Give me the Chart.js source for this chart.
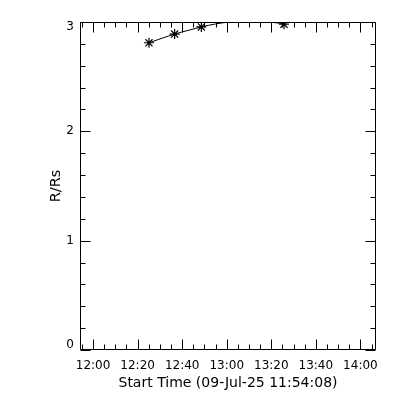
<!DOCTYPE html>
<html><head><meta charset="utf-8">
<script src="https://cdn.jsdelivr.net/npm/chart.js@4"></script>
<style>html,body{margin:0;padding:0;background:#fff}#wrap{width:400px;height:400px}</style>
</head><body><div id="wrap"><canvas id="c" width="400" height="400"></canvas></div>
<script>
const startLabel = '09-Jul-25 11:54:08';
const xRange = ['11:54:08', '14:07:00'];
const xTickLabels = ['12:00', '12:20', '12:40', '13:00', '13:20', '13:40', '14:00'];
const xMinorStepMin = 5;
const yTickLabels = ['0', '1', '2', '3'];
const yMinorStep = 0.2;
const obsTimes = ['12:25:06', '12:36:36', '12:48:36', '13:25:42'];
const obsR = [2.81, 2.89, 2.955, 2.98];
const fitTimes = ['12:25:06', '12:31:00', '12:36:36', '12:43:00', '12:48:36', '12:55:00', '13:01:00', '13:09:00', '13:17:00', '13:25:42'];
const fitR = [2.81, 2.852, 2.89, 2.925, 2.955, 2.982, 3.0, 3.013, 3.003, 2.985];

function toMin(s) { const p = s.split(':').map(Number); return p[0] * 60 + p[1] + (p[2] || 0) / 60; }
function fmt(m) { const h = Math.floor(m / 60), mm = Math.round(m - h * 60); return String(h).padStart(2, '0') + ':' + String(mm).padStart(2, '0'); }

const xMin = toMin(xRange[0]), xMax = toMin(xRange[1]);
const majorX = xTickLabels.map(toMin);
const yMajor = yTickLabels.map(Number);
const yMin = yMajor[0], yMax = yMajor[yMajor.length - 1];

const frame = {
  id: 'frame',
  afterDraw(chart) {
    const { ctx, chartArea: a, scales: { x, y } } = chart;
    ctx.save();
    ctx.strokeStyle = '#000';
    ctx.lineWidth = 1;
    const L = Math.round(a.left) + 0.5, R = Math.round(a.right) - 0.5, T = Math.round(a.top) + 0.5, B = Math.round(a.bottom) - 0.5;
    ctx.beginPath();
    ctx.rect(L, T, R - L, B - T);
    for (let m = Math.ceil(xMin / xMinorStepMin) * xMinorStepMin; m <= xMax; m += xMinorStepMin) {
      const px = Math.round(x.getPixelForValue(m)) + 0.5;
      const len = majorX.some(v => Math.abs(v - m) < 1e-6) ? 10 : 5;
      ctx.moveTo(px, B); ctx.lineTo(px, B - len);
      ctx.moveTo(px, T); ctx.lineTo(px, T + len);
    }
    for (let i = 0; i <= Math.round((y.max - y.min) / yMinorStep); i++) {
      const v = y.min + i * yMinorStep;
      const py = Math.round(y.getPixelForValue(v)) + 0.5;
      const len = yMajor.some(t => Math.abs(t - v) < 1e-6) ? 10 : 5;
      ctx.moveTo(L, py); ctx.lineTo(L + len, py);
      ctx.moveTo(R, py); ctx.lineTo(R - len, py);
    }
    ctx.stroke();
    ctx.restore();
  }
};

new Chart(document.getElementById('c'), {
  type: 'scatter',
  data: {
    datasets: [
      {
        label: 'fit',
        data: fitTimes.map((t, i) => ({ x: toMin(t), y: fitR[i] })),
        showLine: true,
        borderColor: '#000',
        borderWidth: 1,
        pointRadius: 0,
        tension: 0.4,
        cubicInterpolationMode: 'monotone',
        fill: false
      },
      {
        label: 'R/Rs',
        data: obsTimes.map((t, i) => ({ x: toMin(t), y: obsR[i] })),
        showLine: false,
        pointStyle: 'star',
        pointRadius: 5,
        pointBorderColor: '#000',
        pointBorderWidth: 1.2,
        pointBackgroundColor: '#000'
      }
    ]
  },
  options: {
    responsive: false,
    animation: false,
    devicePixelRatio: 1,
    layout: { padding: { left: 0, right: 24, top: 22, bottom: 0 } },
    plugins: { legend: { display: false }, tooltip: { enabled: false } },
    scales: {
      x: {
        type: 'linear',
        min: xMin, max: xMax,
        grid: { display: false, drawTicks: false },
        border: { display: false },
        afterBuildTicks: s => { s.ticks = majorX.map(v => ({ value: v })); },
        afterFit: s => { s.height = 50; },
        ticks: {
          autoSkip: false, maxRotation: 0, padding: 9,
          color: '#000', font: { family: 'DejaVu Sans', size: 12 },
          callback: v => fmt(v)
        },
        title: {
          display: true, text: 'Start Time (' + startLabel + ')', color: '#000',
          font: { family: 'DejaVu Sans', size: 14 }, padding: { top: 0, bottom: 8 }
        }
      },
      y: {
        min: yMin, max: yMax,
        grid: { display: false, drawTicks: false },
        border: { display: false },
        afterBuildTicks: s => { s.ticks = yMajor.map(v => ({ value: v })); },
        afterFit: s => { s.width = 80; },
        ticks: {
          padding: 6, color: '#000', font: { family: 'DejaVu Sans', size: 12, lineHeight: 0.8 },
          callback: v => v === yMax ? ['', String(v)] : (v === yMin ? [String(v), ''] : String(v))
        },
        title: {
          display: true, text: 'R/Rs', color: '#000',
          font: { family: 'DejaVu Sans', size: 14.5 }, padding: { top: 48, bottom: 0 }
        }
      }
    }
  },
  plugins: [frame]
});
</script></body></html>
